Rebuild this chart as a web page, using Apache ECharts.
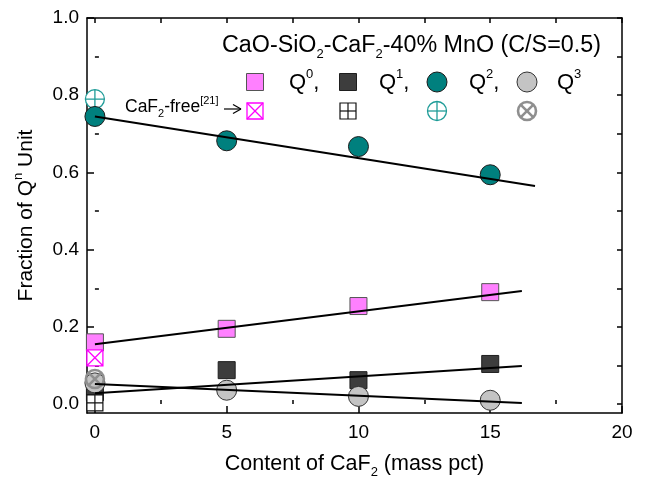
<!DOCTYPE html>
<html><head><meta charset="utf-8">
<script src="https://cdn.jsdelivr.net/npm/echarts@6/dist/echarts.min.js"></script>
<style>html,body{margin:0;padding:0;background:#fff}#chart{width:647px;height:479px}</style>
</head><body><div id="chart"></div>
<script>
// CaF2 content (mass pct) and fraction of each Q^n unit
const caf2 = [0, 5, 10, 15];
const q0 = [0.16, 0.195, 0.254, 0.29];
const q1 = [0.031, 0.088, 0.062, 0.104];
const q2 = [0.745, 0.682, 0.667, 0.594];
const q3 = [0.055, 0.036, 0.02, 0.01];
// CaF2-free slag [21], plotted at x = 0
const freeX = 0;
const freeQ0 = 0.12;
const freeQ1 = 0.003;
const freeQ2 = 0.79;
const freeQ3 = 0.065;
// linear trend lines: [x, y] at each end
const fitQ0 = [[0, 0.155], [16.2, 0.293]];
const fitQ1 = [[0, 0.028], [16.2, 0.099]];
const fitQ2 = [[0, 0.745], [16.7, 0.565]];
const fitQ3 = [[0, 0.052], [16.2, 0.003]];
// tick positions
const xMajor = [0, 5, 10, 15, 20];
const xMinor = [2.5, 7.5, 12.5, 17.5];
const xAll = [0, 2.5, 5, 7.5, 10, 12.5, 15, 17.5, 20];
const yMajor = [0, 0.2, 0.4, 0.6, 0.8, 1.0];
const yMinor = [0.1, 0.3, 0.5, 0.7, 0.9];
const yAll = [0, 0.1, 0.2, 0.3, 0.4, 0.5, 0.6, 0.7, 0.8, 0.9, 1.0];

const FONT = '"Liberation Sans", Arial, sans-serif';
const C = {
  q0: '#ff80ff', q0b: '#555555', q0free: '#ff00ff',
  q1: '#3d3d3d', q1b: '#1e1e1e', q1free: '#111111',
  q2: '#00807e', q2b: '#1a1a1a', q2free: '#1f9c98',
  q3: '#c4c4c4', q3b: '#333333', q3free: '#8f8f8f'
};

const crossSquare = 'path://M0,0L20,0L20,20L0,20Z M0,0L20,20 M20,0L0,20';
const plusSquare = 'path://M0,0L20,0L20,20L0,20Z M10,0L10,20 M0,10L20,10';
const plusCircle = 'path://M0,10A10,10 0 1 1 20,10A10,10 0 1 1 0,10Z M10,0L10,20 M0,10L20,10';
const crossCircle = 'path://M0,10A10,10 0 1 1 20,10A10,10 0 1 1 0,10Z M2.93,2.93L17.07,17.07 M17.07,2.93L2.93,17.07';

const pairs = ys => caf2.map((x, i) => [x, ys[i]]);

const subSup = {
  s: { fontSize: 13, lineHeight: 14, verticalAlign: 'bottom', fontFamily: FONT, fill: '#000', color: '#000' },
  p: { fontSize: 13, lineHeight: 14, verticalAlign: 'top', fontFamily: FONT, fill: '#000', color: '#000' }
};
const subSupSmall = {
  s: { fontSize: 11, lineHeight: 12, verticalAlign: 'bottom', fontFamily: FONT, fill: '#000', color: '#000' },
  p: { fontSize: 11, lineHeight: 12, verticalAlign: 'top', fontFamily: FONT, fill: '#000', color: '#000' }
};

function markerSeries(name, data, symbol, size, fill, stroke, bw) {
  return {
    name, type: 'scatter', data, symbol, symbolSize: size, clip: false,
    itemStyle: { color: fill, borderColor: stroke, borderWidth: bw, opacity: 1 },
    emphasis: { disabled: true }
  };
}
function fitSeries(name, data) {
  return {
    name, type: 'line', data, symbol: 'none', clip: false, z: 5,
    lineStyle: { color: '#000', width: 2 }, emphasis: { disabled: true }
  };
}

const baseAxis = {
  splitLine: { show: false },
  axisLine: { show: false },
  axisTick: { show: false },
  axisLabel: { show: false }
};

// legend keys and caption
const LX = [255, 348, 437, 527];
const R1 = 82, R2 = 111;
const txt = (x, y, text, size, lh, rich) => ({
  type: 'text', x, y,
  style: { text, fontSize: size, fontFamily: FONT, fill: '#000', textVerticalAlign: 'middle', lineHeight: lh, rich: rich || subSup }
});
const line = (x1, y1, x2, y2, stroke, w) => ({ type: 'line', shape: { x1, y1, x2, y2 }, style: { stroke, lineWidth: w } });

const graphics = [
  txt(222, 46, 'CaO-SiO{s|2}-CaF{s|2}-40% MnO (C/S=0.5)', 23.3, 30),
  // filled keys
  { type: 'rect', shape: { x: LX[0] - 8.5, y: R1 - 8.5, width: 17, height: 17 }, style: { fill: C.q0, stroke: C.q0b, lineWidth: 1 } },
  { type: 'rect', shape: { x: LX[1] - 8.5, y: R1 - 8.5, width: 17, height: 17 }, style: { fill: C.q1, stroke: C.q1b, lineWidth: 1 } },
  { type: 'circle', shape: { cx: LX[2], cy: R1, r: 10 }, style: { fill: C.q2, stroke: C.q2b, lineWidth: 1 } },
  { type: 'circle', shape: { cx: LX[3], cy: R1, r: 10 }, style: { fill: C.q3, stroke: C.q3b, lineWidth: 1 } },
  txt(289, R1 + 1, 'Q{p|0},', 22, 30),
  txt(379, R1 + 1, 'Q{p|1},', 22, 30),
  txt(469, R1 + 1, 'Q{p|2},', 22, 30),
  txt(557, R1 + 1, 'Q{p|3}', 22, 30),
  // CaF2-free keys
  { type: 'rect', shape: { x: LX[0] - 8, y: R2 - 8, width: 16, height: 16 }, style: { fill: '#fff', stroke: C.q0free, lineWidth: 1.3 } },
  line(LX[0] - 8, R2 - 8, LX[0] + 8, R2 + 8, C.q0free, 1.3),
  line(LX[0] + 8, R2 - 8, LX[0] - 8, R2 + 8, C.q0free, 1.3),
  { type: 'rect', shape: { x: LX[1] - 8, y: R2 - 8, width: 16, height: 16 }, style: { fill: '#fff', stroke: C.q1free, lineWidth: 1.2 } },
  line(LX[1], R2 - 8, LX[1], R2 + 8, C.q1free, 1.2),
  line(LX[1] - 8, R2, LX[1] + 8, R2, C.q1free, 1.2),
  { type: 'circle', shape: { cx: LX[2], cy: R2, r: 9.5 }, style: { fill: '#fff', stroke: C.q2free, lineWidth: 1.3 } },
  line(LX[2], R2 - 9.5, LX[2], R2 + 9.5, C.q2free, 1.3),
  line(LX[2] - 9.5, R2, LX[2] + 9.5, R2, C.q2free, 1.3),
  { type: 'circle', shape: { cx: LX[3], cy: R2, r: 9 }, style: { fill: '#fff', stroke: C.q3free, lineWidth: 2.6 } },
  line(LX[3] - 6.4, R2 - 6.4, LX[3] + 6.4, R2 + 6.4, C.q3free, 2.6),
  line(LX[3] + 6.4, R2 - 6.4, LX[3] - 6.4, R2 + 6.4, C.q3free, 2.6),
  txt(125, R2 - 4, 'CaF{s|2}-free{p|[21]}', 17.5, 24, subSupSmall),
  // pointer arrow
  line(224, 109, 241, 109, '#000', 1.2),
  line(241, 109, 233, 104.5, '#000', 1.2),
  line(241, 109, 233, 113.5, '#000', 1.2)
];

const option = {
  animation: false,
  backgroundColor: '#fff',
  textStyle: { fontFamily: FONT },
  grid: { left: 87, right: 25, top: 18, bottom: 66, show: false, containLabel: false, outerBoundsMode: 'none' },
  xAxis: [
    {
      type: 'value', min: -0.3, max: 20, position: 'bottom',
      axisLine: { show: true, onZero: false, lineStyle: { color: '#000', width: 1.5 } },
      axisTick: { show: true, inside: true, length: 7, customValues: xMajor, lineStyle: { color: '#000', width: 1.5 } },
      axisLabel: { show: true, customValues: xMajor, fontSize: 19, color: '#000', margin: 10, fontFamily: FONT },
      splitLine: { show: false },
      name: 'Content of CaF{s|2} (mass pct)', nameLocation: 'middle', nameGap: 36,
      nameTextStyle: { fontSize: 21.5, color: '#000', fontFamily: FONT, lineHeight: 30, rich: subSup }
    },
    Object.assign({}, baseAxis, {
      type: 'value', min: -0.3, max: 20, position: 'bottom',
      axisTick: { show: true, inside: true, length: 4, customValues: xMinor, lineStyle: { color: '#000', width: 1.5 } }
    }),
    Object.assign({}, baseAxis, {
      type: 'value', min: -0.3, max: 20, position: 'top',
      axisLine: { show: true, onZero: false, lineStyle: { color: '#000', width: 1.5 } },
      axisTick: { show: true, inside: true, length: 5, customValues: xAll, lineStyle: { color: '#000', width: 1.5 } }
    })
  ],
  yAxis: [
    {
      type: 'value', min: -0.023, max: 1.0, position: 'left',
      axisLine: { show: true, onZero: false, lineStyle: { color: '#000', width: 1.5 } },
      axisTick: { show: true, inside: true, length: 7, customValues: yMajor, lineStyle: { color: '#000', width: 1.5 } },
      axisLabel: { show: true, customValues: yMajor, fontSize: 19, color: '#000', margin: 8, fontFamily: FONT, formatter: v => v.toFixed(1) },
      splitLine: { show: false },
      name: 'Fraction of Q{p|n} Unit', nameLocation: 'middle', nameGap: 47,
      nameTextStyle: { fontSize: 21, color: '#000', fontFamily: FONT, lineHeight: 28, rich: subSup }
    },
    Object.assign({}, baseAxis, {
      type: 'value', min: -0.023, max: 1.0, position: 'left',
      axisTick: { show: true, inside: true, length: 4, customValues: yMinor, lineStyle: { color: '#000', width: 1.5 } }
    }),
    Object.assign({}, baseAxis, {
      type: 'value', min: -0.023, max: 1.0, position: 'right',
      axisLine: { show: true, onZero: false, lineStyle: { color: '#000', width: 1.5 } },
      axisTick: { show: true, inside: true, length: 5, customValues: yAll, lineStyle: { color: '#000', width: 1.5 } }
    })
  ],
  series: [
    markerSeries('Q2 CaF2-free', [[freeX, freeQ2]], plusCircle, 19, '#fff', C.q2free, 1.3),
    markerSeries('Q0', pairs(q0), 'rect', 17, C.q0, C.q0b, 1),
    markerSeries('Q1', pairs(q1), 'rect', 17, C.q1, C.q1b, 1),
    markerSeries('Q2', pairs(q2), 'circle', 20, C.q2, C.q2b, 1),
    markerSeries('Q3', pairs(q3), 'circle', 20, C.q3, C.q3b, 1),
    markerSeries('Q0 CaF2-free', [[freeX, freeQ0]], crossSquare, 16, '#fff', C.q0free, 1.3),
    markerSeries('Q1 CaF2-free', [[freeX, freeQ1]], plusSquare, 16, '#fff', C.q1free, 1.2),
    markerSeries('Q3 CaF2-free', [[freeX, freeQ3]], crossCircle, 18, 'rgba(255,255,255,0)', C.q3free, 2.6),
    fitSeries('Q0 fit', fitQ0),
    fitSeries('Q1 fit', fitQ1),
    fitSeries('Q2 fit', fitQ2),
    fitSeries('Q3 fit', fitQ3)
  ],
  graphic: graphics
};

const chart = echarts.init(document.getElementById('chart'), null, { renderer: 'canvas' });
chart.setOption(option);
</script>
</body></html>
